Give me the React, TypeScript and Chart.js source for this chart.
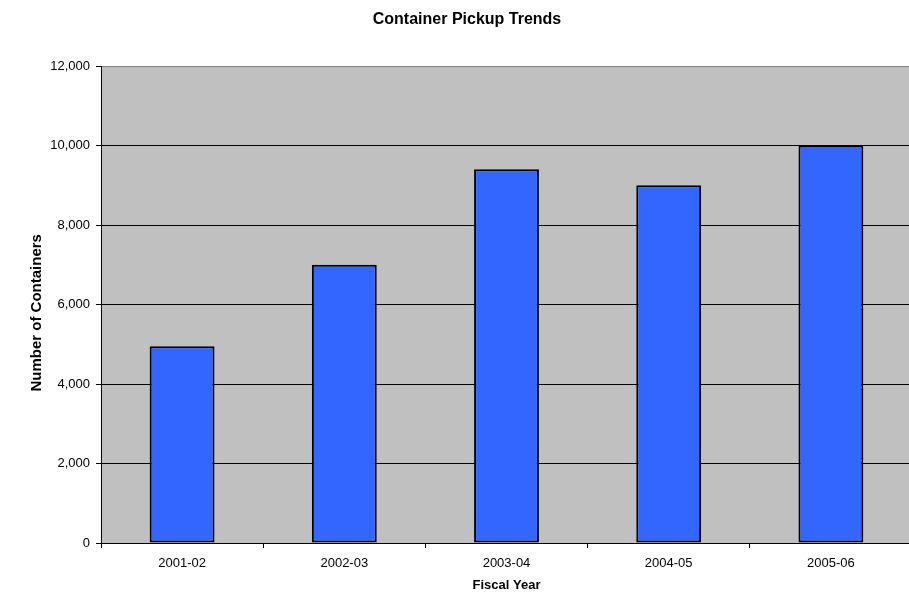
import React, { useEffect, useRef } from "react";
import { Chart, registerables } from "chart.js";

Chart.register(...registerables);

const categories = ["2001-02", "2002-03", "2003-04", "2004-05", "2005-06"];
const containers = [4950, 7000, 9400, 9000, 10000];
const yMin = 0;
const yMax = 12000;
const yStep = 2000;

const FONT = "'Liberation Sans', Arial, sans-serif";

const plotBg = {
  id: "plotBg",
  beforeDraw(chart: any) {
    const { ctx, chartArea } = chart;
    ctx.save();
    ctx.fillStyle = "#C0C0C0";
    ctx.fillRect(chartArea.left, chartArea.top, chartArea.right - chartArea.left, chartArea.bottom - chartArea.top);
    ctx.restore();
  },
};

export default function App() {
  const ref = useRef<HTMLCanvasElement | null>(null);
  useEffect(() => {
    if (!ref.current) return;
    const chart = new Chart(ref.current, {
      type: "bar",
      data: {
        labels: categories,
        datasets: [
          {
            label: "Containers",
            data: containers,
            backgroundColor: "#3366FF",
            borderColor: "#000000",
            borderWidth: 2,
            borderSkipped: false,
            barPercentage: 0.4,
            categoryPercentage: 1,
          },
        ],
      },
      options: {
        responsive: false,
        animation: false,
        devicePixelRatio: 1,
        layout: { padding: { left: 22, right: 44, top: 0, bottom: 0 } },
        plugins: {
          legend: { display: false },
          tooltip: { enabled: false },
          title: {
            display: true,
            text: "Container Pickup Trends",
            color: "#000",
            font: { family: FONT, size: 16, weight: "bold" },
            padding: { top: 10.4, bottom: 36.4 },
          },
        },
        scales: {
          x: {
            offset: true,
            grid: {
              offset: true,
              drawOnChartArea: false,
              drawTicks: true,
              tickLength: 5,
              color: "#000",
            },
            border: { color: "#000", width: 1 },
            ticks: {
              color: "#000",
              font: { family: FONT, size: 13 },
              padding: 8,
              maxRotation: 0,
            },
            title: {
              display: true,
              text: "Fiscal Year",
              color: "#000",
              font: { family: FONT, size: 13, weight: "bold" },
              padding: { top: 4, bottom: 19.5 },
            },
            afterFit(scale: any) {
              scale.height = 70;
            },
          },
          y: {
            min: yMin,
            max: yMax,
            grid: {
              color: (ctx: any) => (ctx.tick && ctx.tick.value === yMax ? "#808080" : "#000"),
              tickColor: "#000",
              tickLength: 5,
              lineWidth: 1,
            },
            border: { color: "#000", width: 1 },
            ticks: {
              stepSize: yStep,
              color: "#000",
              font: { family: FONT, size: 13 },
              padding: 6,
              callback: (v: any) => Number(v).toLocaleString("en-US"),
            },
            title: {
              display: true,
              text: "Number of Containers    ",
              color: "#000",
              font: { family: FONT, size: 15, weight: "bold" },
              padding: { top: 5.5, bottom: 0 },
            },
            afterFit(scale: any) {
              scale.width = 79;
            },
          },
        },
      },
      plugins: [plotBg],
    });
    return () => chart.destroy();
  }, []);

  return (
    <div style={{ position: "absolute", left: 0, top: 0, width: 909, height: 613, overflow: "hidden", background: "#fff" }}>
      <canvas ref={ref} width={956} height={613} style={{ display: "block" }} />
    </div>
  );
}
